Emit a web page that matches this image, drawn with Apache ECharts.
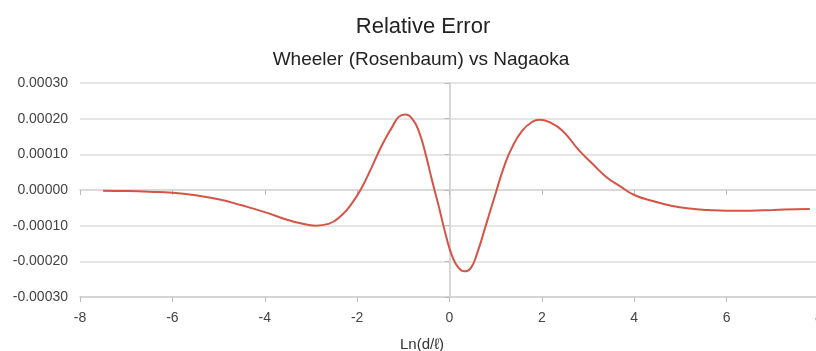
<!DOCTYPE html>
<html><head><meta charset="utf-8">
<script src="https://cdn.jsdelivr.net/npm/echarts@6/dist/echarts.min.js"></script>
<style>html,body{margin:0;padding:0;background:#fff}#c{width:816px;height:351px}</style>
</head><body><div id="c"></div>
<script>
const titleText = "Relative Error";
const subtitleText = "Wheeler (Rosenbaum) vs Nagaoka";
const xAxisName = "Ln(d/ℓ)";
const xTicks = [-8, -6, -4, -2, 0, 2, 4, 6, 8];
const yTicks = [-0.0003, -0.0002, -0.0001, 0, 0.0001, 0.0002, 0.0003];
const xValues = [-7.5,-7,-6.5,-6,-5.5,-5,-4.5,-4,-3.5,-3.2,-2.9,-2.62,-2.33,-2.11,-1.89,-1.68,-1.46,-1.24,-1.10,-0.97,-0.81,-0.66,-0.52,-0.38,-0.23,-0.09,0.06,0.20,0.33,0.46,0.60,0.78,1.00,1.18,1.36,1.58,1.79,1.95,2.15,2.44,2.80,3.1,3.4,3.7,4.0,4.4,4.8,5.2,5.6,6.0,6.5,7.0,7.5,7.8];
const yValuesE4 = [-0.02,-0.03,-0.05,-0.08,-0.15,-0.26,-0.43,-0.62,-0.84,-0.94,-1.00,-0.95,-0.70,-0.37,0.09,0.65,1.26,1.77,2.05,2.12,2.00,1.63,1.02,0.28,-0.47,-1.21,-1.86,-2.19,-2.28,-2.19,-1.77,-1.02,-0.09,0.65,1.21,1.67,1.91,1.97,1.91,1.67,1.12,0.73,0.36,0.10,-0.14,-0.31,-0.44,-0.52,-0.56,-0.58,-0.58,-0.56,-0.54,-0.53];

const data = xValues.map((x, i) => [x, yValuesE4[i] * 1e-4]);
const FONT = 'Liberation Sans, Arial, sans-serif';
const chart = echarts.init(document.getElementById('c'));
chart.setOption({
  animation: false,
  backgroundColor: '#fff',
  title: [
    { text: titleText, left: 418, top: 11, textAlign: 'center',
      textStyle: { fontFamily: FONT, fontSize: 22, fontWeight: 'normal', color: '#222' } },
    { text: subtitleText, left: 416, top: 45, textAlign: 'center',
      textStyle: { fontFamily: FONT, fontSize: 19, fontWeight: 'normal', color: '#222' } },
    { text: xAxisName, left: 417, top: 332, textAlign: 'center',
      textStyle: { fontFamily: FONT, fontSize: 15, fontWeight: 'normal', color: '#333' } }
  ],
  grid: { left: 80, right: -3, top: 83, bottom: 54, containLabel: false, outerBoundsMode: 'none' },
  xAxis: [{
    type: 'value', min: xTicks[0], max: xTicks[xTicks.length-1], interval: 2,
    axisLine: { onZero: false, lineStyle: { color: '#cfcfcf', width: 1.5 } },
    axisTick: { show: true, length: 5, lineStyle: { color: '#bbb' } },
    axisLabel: { color: '#444', fontSize: 14, fontFamily: FONT, margin: 14 },
    splitLine: { show: false }
  }, {
    type: 'value', position: 'top', min: xTicks[0], max: xTicks[xTicks.length-1], interval: 2,
    axisLine: { show: true, onZero: true, lineStyle: { color: '#d6d6d6', width: 1.5 } },
    axisTick: { show: true, inside: true, length: 5, lineStyle: { color: '#bbb' } },
    axisLabel: { show: false }, splitLine: { show: false }
  }],
  yAxis: [{
    type: 'value', min: yTicks[0], max: yTicks[yTicks.length-1], interval: 0.0001,
    axisLine: { show: true, lineStyle: { color: '#cfcfcf', width: 1.5 } },
    axisTick: { show: true, length: 5, lineStyle: { color: '#bbb' } },
    axisLabel: { color: '#444', fontSize: 14, fontFamily: FONT, margin: 12,
      formatter: v => v.toFixed(5) },
    splitLine: { show: true, lineStyle: { color: '#dcdcdc', width: 1.5 } }
  }, {
    type: 'value', position: 'right', min: yTicks[0], max: yTicks[yTicks.length-1], interval: 0.0001,
    axisLine: { show: true, onZero: true, lineStyle: { color: '#d6d6d6', width: 1.5 } },
    axisTick: { show: false }, axisLabel: { show: false }, splitLine: { show: false }
  }],
  series: [{
    type: 'line', data: data, smooth: 0.5, showSymbol: false,
    xAxisIndex: 0, yAxisIndex: 0,
    lineStyle: { color: '#d65446', width: 2 }
  }]
});
</script></body></html>
